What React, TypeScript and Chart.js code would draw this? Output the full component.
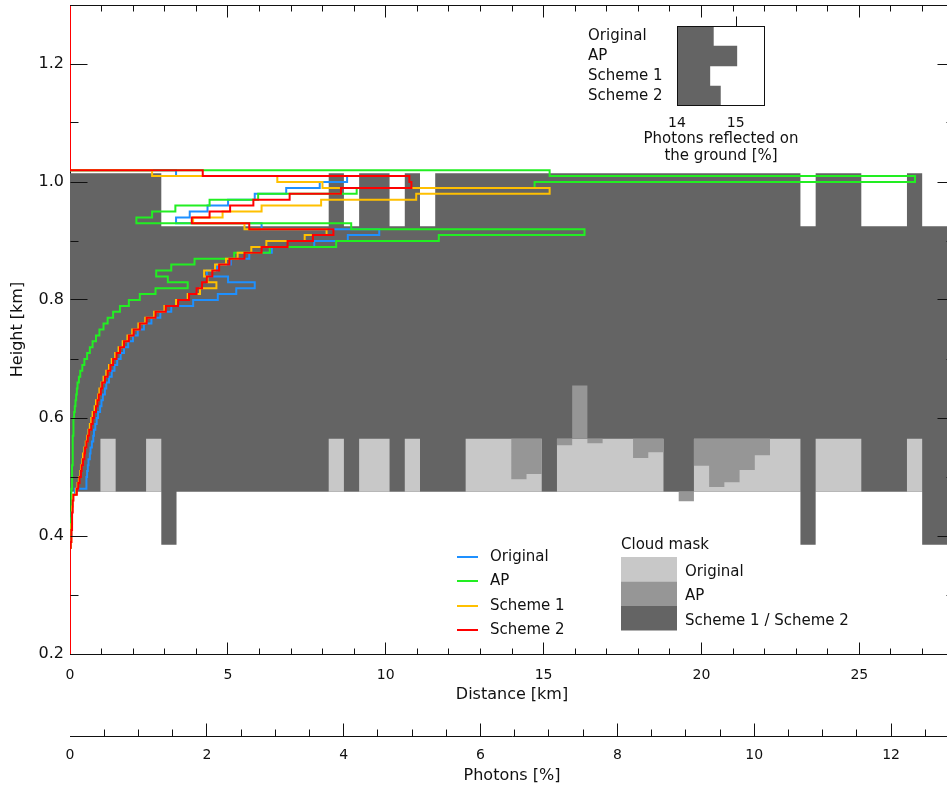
import React, { useEffect, useRef } from "react";
import { Chart, registerables } from "chart.js";

Chart.register(...registerables);

const FONT_FAMILY = '"DejaVu Sans", "Liberation Sans", sans-serif';
const INK = "#111111";

const MASK_DARK = "#646464";
const MASK_MEDIUM = "#969696";
const MASK_LIGHT = "#c8c8c8";

const DISTANCE_MAX_KM = 28;
const HEIGHT_MIN_KM = 0.2;
const HEIGHT_MAX_KM = 1.3;
const PHOTONS_MAX_PCT = 12.92;

// ---- Cloud field: one value per model column along the track ----
const columnEdgesKm = [
  0, 0.482, 0.964, 1.446, 1.928, 2.41, 2.892, 3.374, 3.856, 4.338,
  4.82, 5.302, 5.784, 6.266, 6.748, 7.23, 7.712, 8.194, 8.676, 9.158,
  9.64, 10.122, 10.604, 11.086, 11.568, 12.05, 12.532, 13.014, 13.496, 13.978,
  14.46, 14.942, 15.424, 15.906, 16.388, 16.87, 17.352, 17.834, 18.316, 18.798,
  19.28, 19.762, 20.244, 20.726, 21.208, 21.69, 22.172, 22.654, 23.136, 23.618,
  24.1, 24.582, 25.064, 25.546, 26.028, 26.51, 26.992, 27.474, 27.956, 28.438,
];

// Scheme 1 / Scheme 2 mask: cloud top and cloud base per column (km)
const cloudTopKm = [
  1.015, 1.015, 1.015, 1.015, 1.015, 1.015, 0.925, 0.925, 0.925, 0.925,
  0.925, 0.925, 0.925, 0.925, 0.925, 0.925, 0.925, 1.015, 0.925, 1.015,
  1.015, 0.925, 1.015, 0.925, 1.015, 1.015, 1.015, 1.015, 1.015, 1.015,
  1.015, 1.015, 1.015, 1.015, 1.015, 1.015, 1.015, 1.015, 1.015, 1.015,
  1.015, 1.015, 1.015, 1.015, 1.015, 1.015, 1.015, 1.015, 0.925, 1.015,
  1.015, 1.015, 0.925, 0.925, 0.925, 1.015, 0.925, 0.925, 0.925,
];
const cloudBaseKm = [
  0.475, 0.475, 0.475, 0.475, 0.475, 0.475, 0.385, 0.475, 0.475, 0.475,
  0.475, 0.475, 0.475, 0.475, 0.475, 0.475, 0.475, 0.475, 0.475, 0.475,
  0.475, 0.475, 0.475, 0.475, 0.475, 0.475, 0.475, 0.475, 0.475, 0.475,
  0.475, 0.475, 0.475, 0.475, 0.475, 0.475, 0.475, 0.475, 0.475, 0.475,
  0.475, 0.475, 0.475, 0.475, 0.475, 0.475, 0.475, 0.475, 0.385, 0.475,
  0.475, 0.475, 0.475, 0.475, 0.475, 0.475, 0.385, 0.385, 0.385,
];

// Original mask where it differs from the schemes (lowest layer)
const ORIGINAL_MASK_BASE_KM = 0.475;
const originalMaskTopKm = [
  0.475, 0.475, 0.565, 0.475, 0.475, 0.565, 0.475, 0.475, 0.475, 0.475,
  0.475, 0.475, 0.475, 0.475, 0.475, 0.475, 0.475, 0.565, 0.475, 0.565,
  0.565, 0.475, 0.565, 0.475, 0.475, 0.475, 0.565, 0.565, 0.565, 0.565,
  0.565, 0.475, 0.565, 0.565, 0.565, 0.565, 0.565, 0.565, 0.565, 0.475,
  0.475, 0.565, 0.565, 0.565, 0.565, 0.565, 0.565, 0.565, 0.475, 0.565,
  0.565, 0.565, 0.475, 0.475, 0.475, 0.565, 0.475, 0.475, 0.475,
];

// AP mask where it differs (top / base per column)
const apMaskTopKm = [
  0.565, 0.565, 0.565, 0.565, 0.565, 0.565, 0.565, 0.565, 0.565, 0.565,
  0.565, 0.565, 0.565, 0.565, 0.565, 0.565, 0.565, 0.565, 0.565, 0.565,
  0.565, 0.565, 0.565, 0.565, 0.565, 0.565, 0.565, 0.565, 0.565, 0.565,
  0.565, 0.565, 0.565, 0.655, 0.565, 0.565, 0.565, 0.565, 0.565, 0.565,
  0.475, 0.565, 0.565, 0.565, 0.565, 0.565, 0.565, 0.565, 0.565, 0.565,
  0.565, 0.565, 0.565, 0.565, 0.565, 0.565, 0.565, 0.565, 0.565,
];
const apMaskBaseKm = [
  0.565, 0.565, 0.565, 0.565, 0.565, 0.565, 0.565, 0.565, 0.565, 0.565,
  0.565, 0.565, 0.565, 0.565, 0.565, 0.565, 0.565, 0.565, 0.565, 0.565,
  0.565, 0.565, 0.565, 0.565, 0.565, 0.565, 0.565, 0.565, 0.565, 0.496,
  0.505, 0.565, 0.554, 0.565, 0.557, 0.565, 0.565, 0.532, 0.542, 0.565,
  0.459, 0.519, 0.483, 0.491, 0.512, 0.537, 0.565, 0.565, 0.565, 0.565,
  0.565, 0.565, 0.565, 0.565, 0.565, 0.565, 0.565, 0.565, 0.565,
];

// ---- Photon profiles: lower edge of each height bin (km) ----
const heightBinsKm = [
  0.38, 0.39, 0.40, 0.41, 0.42, 0.43, 0.44, 0.45, 0.46, 0.47,
  0.48, 0.49, 0.50, 0.51, 0.52, 0.53, 0.54, 0.55, 0.56, 0.57,
  0.58, 0.59, 0.60, 0.61, 0.62, 0.63, 0.64, 0.65, 0.66, 0.67,
  0.68, 0.69, 0.70, 0.71, 0.72, 0.73, 0.74, 0.75, 0.76, 0.77,
  0.78, 0.79, 0.80, 0.81, 0.82, 0.83, 0.84, 0.85, 0.86, 0.87,
  0.88, 0.89, 0.90, 0.91, 0.92, 0.93, 0.94, 0.95, 0.96, 0.97,
  0.98, 0.99, 1.00, 1.01,
];
const HEIGHT_BINS_TOP_KM = 1.02;

const photonsOriginal = [
  0.01, 0.01, 0.02, 0.02, 0.02, 0.02, 0.03, 0.03, 0.03, 0.07,
  0.24, 0.24, 0.25, 0.26, 0.27, 0.29, 0.30, 0.32, 0.34, 0.35,
  0.37, 0.39, 0.41, 0.44, 0.46, 0.48, 0.51, 0.53, 0.57, 0.61,
  0.65, 0.69, 0.74, 0.79, 0.85, 0.92, 0.99, 1.08, 1.19, 1.32,
  1.48, 1.80, 2.16, 2.43, 2.70, 2.31, 2.00, 2.15, 2.35, 2.62,
  2.95, 3.57, 4.06, 4.52, 2.80, 1.55, 1.75, 2.01, 2.31, 2.70,
  3.16, 3.65, 4.05, 1.55,
];
const photonsAP = [
  0.01, 0.01, 0.01, 0.01, 0.01, 0.02, 0.02, 0.02, 0.02, 0.02,
  0.03, 0.03, 0.03, 0.03, 0.04, 0.04, 0.04, 0.04, 0.04, 0.05,
  0.05, 0.05, 0.06, 0.07, 0.08, 0.09, 0.10, 0.11, 0.13, 0.15,
  0.18, 0.21, 0.25, 0.29, 0.33, 0.38, 0.43, 0.49, 0.55, 0.63,
  0.73, 0.86, 1.02, 1.25, 1.72, 1.43, 1.26, 1.48, 1.82, 2.40,
  2.92, 3.89, 5.39, 7.52, 4.11, 0.97, 1.20, 1.54, 2.04, 2.75,
  4.19, 6.79, 12.35, 7.01,
];
const photonsScheme1 = [
  0.01, 0.02, 0.02, 0.02, 0.03, 0.03, 0.03, 0.04, 0.04, 0.09,
  0.11, 0.13, 0.15, 0.16, 0.18, 0.19, 0.21, 0.23, 0.25, 0.27,
  0.29, 0.31, 0.33, 0.36, 0.38, 0.41, 0.43, 0.46, 0.49, 0.53,
  0.57, 0.61, 0.66, 0.71, 0.77, 0.84, 0.91, 1.00, 1.10, 1.23,
  1.38, 1.55, 1.72, 1.90, 2.14, 2.01, 1.96, 2.12, 2.28, 2.45,
  2.65, 2.87, 3.43, 3.75, 2.55, 1.80, 2.23, 2.80, 3.67, 5.06,
  7.01, 3.69, 3.03, 1.20,
];
const photonsScheme2 = [
  0.01, 0.02, 0.02, 0.03, 0.03, 0.03, 0.04, 0.04, 0.05, 0.10,
  0.12, 0.14, 0.16, 0.17, 0.19, 0.21, 0.22, 0.24, 0.26, 0.28,
  0.31, 0.33, 0.35, 0.38, 0.40, 0.42, 0.45, 0.47, 0.51, 0.55,
  0.59, 0.63, 0.68, 0.73, 0.79, 0.86, 0.93, 1.02, 1.12, 1.25,
  1.40, 1.58, 1.74, 1.85, 1.93, 2.00, 2.08, 2.18, 2.33, 2.55,
  2.80, 3.18, 3.55, 3.85, 2.62, 1.78, 2.04, 2.34, 2.68, 3.21,
  3.96, 4.99, 4.96, 1.94,
];

const profileSeries = [
  { label: "Original", color: "#1e90ff", values: photonsOriginal },
  { label: "AP", color: "#22ee22", values: photonsAP },
  { label: "Scheme 1", color: "#ffc000", values: photonsScheme1 },
  { label: "Scheme 2", color: "#ff0000", values: photonsScheme2 },
];

const maskLegend = [
  { label: "Original", color: MASK_LIGHT },
  { label: "AP", color: MASK_MEDIUM },
  { label: "Scheme 1 / Scheme 2", color: MASK_DARK },
];

// ---- Inset: photons reflected on the ground ----
const groundLabels = ["Original", "AP", "Scheme 1", "Scheme 2"];
const groundReflectedPct = [14.62, 15.02, 14.56, 14.74];
const GROUND_AXIS_MIN = 14;
const GROUND_AXIS_MAX = 15.5;
const groundTitleLines = ["Photons reflected on", "the ground [%]"];

function columnSteps(values: number[]) {
  const pts = values.map((v, k) => ({ x: columnEdgesKm[k], y: v }));
  pts.push({ x: columnEdgesKm[values.length], y: values[values.length - 1] });
  return pts;
}

function profilePoints(values: number[]) {
  return [
    { x: 0, y: HEIGHT_MIN_KM },
    ...heightBinsKm.map((h, i) => ({ x: values[i], y: h })),
    { x: 0, y: HEIGHT_BINS_TOP_KM },
    { x: 0, y: HEIGHT_MAX_KM },
  ];
}

function maskEdge(values: number[], order: number, fillColor?: string) {
  return {
    type: "line",
    data: columnSteps(values),
    xAxisID: "x",
    yAxisID: "y",
    stepped: "before",
    borderWidth: 0,
    borderColor: "transparent",
    pointRadius: 0,
    fill: fillColor ? "+1" : false,
    backgroundColor: fillColor || "transparent",
    order,
  };
}

const crisp = (p: number) => Math.round(p - 0.5) + 0.5;

const frameTicksPlugin = {
  id: "frameTicks",
  afterDatasetsDraw(chart: any) {
    const { ctx, chartArea: a } = chart;
    const xs = chart.scales.x;
    const ys = chart.scales.y;
    const ps = chart.scales.xp;
    const top = crisp(a.top);
    const bottom = crisp(a.bottom);
    const left = crisp(a.left);
    const right = crisp(a.right);
    ctx.save();
    ctx.strokeStyle = INK;
    ctx.lineWidth = 1;
    ctx.beginPath();
    ctx.moveTo(a.left, top);
    ctx.lineTo(a.right, top);
    ctx.moveTo(right, a.top);
    ctx.lineTo(right, a.bottom);
    for (let v = 1; v < xs.max; v += 1) {
      const len = v % 5 === 0 ? 12 : 6;
      const p = crisp(xs.getPixelForValue(v));
      ctx.moveTo(p, bottom);
      ctx.lineTo(p, bottom - len);
      ctx.moveTo(p, top);
      ctx.lineTo(p, top + len);
    }
    for (let i = 3; i < 13; i++) {
      const len = i % 2 === 0 ? 17 : 8;
      const p = crisp(ys.getPixelForValue(i / 10));
      ctx.moveTo(left, p);
      ctx.lineTo(left + len, p);
      ctx.moveTo(right, p);
      ctx.lineTo(right - len, p);
    }
    const axisY = crisp(ps.top);
    for (let i = 1; i * 0.5 < ps.max; i++) {
      const len = i % 4 === 0 ? 13 : 7;
      const p = crisp(ps.getPixelForValue(i * 0.5));
      ctx.moveTo(p, axisY);
      ctx.lineTo(p, axisY - len);
    }
    ctx.stroke();
    ctx.restore();
  },
  afterDraw(chart: any) {
    const { ctx } = chart;
    ctx.save();
    ctx.font = `15px ${FONT_FAMILY}`;
    ctx.textBaseline = "middle";
    ctx.textAlign = "left";
    profileSeries.forEach((s, i) => {
      const y = Math.round(557 + i * 24.4);
      ctx.strokeStyle = s.color;
      ctx.lineWidth = 2;
      ctx.beginPath();
      ctx.moveTo(457, y);
      ctx.lineTo(478, y);
      ctx.stroke();
      ctx.fillStyle = INK;
      ctx.fillText(s.label, 490, y);
    });
    ctx.fillStyle = INK;
    ctx.fillText("Cloud mask", 621, 545);
    maskLegend.forEach((m, i) => {
      const y0 = 557 + i * 24.5;
      ctx.fillStyle = m.color;
      ctx.fillRect(621, y0, 56, 24.5);
      ctx.fillStyle = INK;
      ctx.fillText(m.label, 685, y0 + 15);
    });
    ctx.restore();
  },
};

const insetFramePlugin = {
  id: "insetFrame",
  afterDraw(chart: any) {
    const { ctx, chartArea: a } = chart;
    const xs = chart.scales.x;
    const l = Math.round(a.left) + 0.5;
    const t = Math.round(a.top) + 0.5;
    const r = Math.round(a.right) - 0.5;
    const b = Math.round(a.bottom) - 0.5;
    ctx.save();
    ctx.strokeStyle = INK;
    ctx.lineWidth = 1;
    ctx.strokeRect(l, t, r - l, b - t);
    ctx.beginPath();
    xs.ticks.forEach((tk: any) => {
      if (tk.value > xs.min && tk.value < xs.max) {
        const p = Math.round(xs.getPixelForValue(tk.value)) + 0.5;
        ctx.moveTo(p, t);
        ctx.lineTo(p, t - 10);
      }
    });
    ctx.stroke();
    // axis title, two centred lines under the tick labels
    ctx.font = `15px ${FONT_FAMILY}`;
    ctx.fillStyle = INK;
    ctx.textAlign = "center";
    ctx.textBaseline = "middle";
    const cx = (a.left + a.right) / 2;
    groundTitleLines.forEach((line, i) => {
      ctx.fillText(line, cx, a.bottom + 33 + i * 17);
    });
    ctx.restore();
  },
};

function axisFont(size: number, lineHeight = 1.2) {
  return { family: FONT_FAMILY, size, lineHeight };
}

export default function App() {
  const mainRef = useRef<HTMLCanvasElement>(null);
  const insetRef = useRef<HTMLCanvasElement>(null);

  useEffect(() => {
    if (!mainRef.current || !insetRef.current) return;
    Chart.defaults.font.family = FONT_FAMILY;
    Chart.defaults.color = INK;

    const datasets: any[] = [
      maskEdge(cloudTopKm, 30, MASK_DARK),
      maskEdge(cloudBaseKm, 30),
      maskEdge(originalMaskTopKm, 20, MASK_LIGHT),
      maskEdge(originalMaskTopKm.map(() => ORIGINAL_MASK_BASE_KM), 20),
      maskEdge(apMaskTopKm, 10, MASK_MEDIUM),
      maskEdge(apMaskBaseKm, 10),
      ...profileSeries.map((s, i) => ({
        type: "line",
        label: s.label,
        data: profilePoints(s.values),
        xAxisID: "xp",
        yAxisID: "y",
        stepped: "after",
        borderColor: s.color,
        backgroundColor: s.color,
        borderWidth: 2,
        pointRadius: 0,
        fill: false,
        order: 4 - i,
      })),
    ];

    const main = new Chart(mainRef.current, {
      type: "line",
      data: { datasets },
      options: {
        responsive: false,
        animation: false,
        events: [],
        layout: { autoPadding: false, padding: { top: 5, right: 6, bottom: 0, left: 0 } },
        plugins: { legend: { display: false }, tooltip: { enabled: false } },
        scales: {
          x: {
            type: "linear",
            position: "bottom",
            min: 0,
            max: DISTANCE_MAX_KM,
            grid: { display: false, drawTicks: false },
            border: { display: true, color: INK, width: 1 },
            ticks: {
              stepSize: 5,
              includeBounds: false,
              autoSkip: false,
              maxRotation: 0,
              padding: 13,
              color: INK,
              font: axisFont(14),
            },
            title: {
              display: true,
              text: "Distance [km]",
              color: INK,
              font: axisFont(16),
              padding: { top: 0, bottom: 32 },
            },
            afterFit: (s: any) => {
              s.height = 82;
              s.paddingLeft = 0;
              s.paddingRight = 0;
            },
          },
          xp: {
            type: "linear",
            position: "bottom",
            min: 0,
            max: PHOTONS_MAX_PCT,
            grid: { display: false, drawTicks: false },
            border: { display: true, color: INK, width: 1 },
            ticks: {
              stepSize: 2,
              includeBounds: false,
              autoSkip: false,
              maxRotation: 0,
              padding: 11,
              color: INK,
              font: axisFont(14),
            },
            title: {
              display: true,
              text: "Photons [%]",
              color: INK,
              font: axisFont(16),
              padding: { top: 0, bottom: 6 },
            },
            afterFit: (s: any) => {
              s.height = 55;
              s.paddingLeft = 0;
              s.paddingRight = 0;
            },
          },
          y: {
            type: "linear",
            position: "left",
            min: HEIGHT_MIN_KM,
            max: HEIGHT_MAX_KM,
            grid: { display: false, drawTicks: false },
            border: { display: true, color: INK, width: 1 },
            ticks: {
              stepSize: 0.2,
              includeBounds: false,
              autoSkip: false,
              padding: 6,
              color: INK,
              font: axisFont(16),
              callback: (v: any) => Number(v).toFixed(1),
            },
            title: {
              display: true,
              text: "Height [km]",
              color: INK,
              font: axisFont(16),
              padding: { top: 8, bottom: 0 },
            },
            afterFit: (s: any) => {
              s.width = 70;
              s.paddingTop = 0;
              s.paddingBottom = 0;
            },
          },
        },
      } as any,
      plugins: [frameTicksPlugin],
    } as any);

    const inset = new Chart(insetRef.current, {
      type: "bar",
      data: {
        labels: groundLabels,
        datasets: [
          {
            data: groundReflectedPct,
            base: GROUND_AXIS_MIN,
            backgroundColor: MASK_DARK,
            borderWidth: 0,
            barPercentage: 1,
            categoryPercentage: 1,
          },
        ],
      },
      options: {
        indexAxis: "y",
        responsive: false,
        animation: false,
        events: [],
        layout: { autoPadding: false, padding: { top: 26, right: 63, bottom: 0, left: 0 } },
        plugins: { legend: { display: false }, tooltip: { enabled: false } },
        scales: {
          x: {
            type: "linear",
            min: GROUND_AXIS_MIN,
            max: GROUND_AXIS_MAX,
            grid: { display: false, drawTicks: false },
            border: { display: false },
            ticks: {
              stepSize: 1,
              includeBounds: false,
              autoSkip: false,
              maxRotation: 0,
              padding: 9,
              color: INK,
              font: axisFont(14),
            },
            afterFit: (s: any) => {
              s.height = 69;
              s.paddingLeft = 0;
              s.paddingRight = 0;
            },
          },
          y: {
            grid: { display: false, drawTicks: false },
            border: { display: false },
            ticks: {
              crossAlign: "far",
              autoSkip: false,
              padding: 0,
              color: INK,
              font: axisFont(15),
            },
            afterFit: (s: any) => {
              s.width = 89;
              s.paddingTop = 0;
              s.paddingBottom = 0;
            },
          },
        },
      } as any,
      plugins: [insetFramePlugin],
    } as any);

    return () => {
      main.destroy();
      inset.destroy();
    };
  }, []);

  return (
    <div
      style={{
        position: "fixed",
        left: 0,
        top: 0,
        width: 947,
        height: 791,
        overflow: "hidden",
        background: "#ffffff",
      }}
    >
      <canvas
        ref={mainRef}
        width={960}
        height={791}
        style={{ position: "absolute", left: 0, top: 0, width: 960, height: 791 }}
      />
      <canvas
        ref={insetRef}
        width={240}
        height={175}
        style={{ position: "absolute", left: 588, top: 0, width: 240, height: 175 }}
      />
    </div>
  );
}
